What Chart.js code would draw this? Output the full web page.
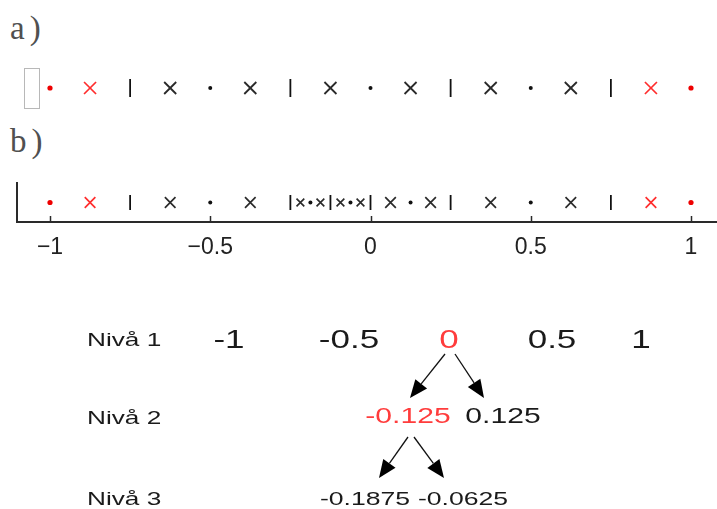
<!DOCTYPE html>
<html><head><meta charset="utf-8">
<script src="https://cdn.jsdelivr.net/npm/chart.js@4.4.1/dist/chart.umd.min.js"></script>
<style>
html,body{margin:0;padding:0;background:#fff;}
#wrap{position:relative;width:717px;height:509px;overflow:hidden;background:#fff;}
canvas{position:absolute;left:0;}
.lbl{position:absolute;font-family:"Liberation Serif","Times New Roman",serif;font-size:33px;color:#505050;line-height:1;letter-spacing:5px;}
.t{position:absolute;font-family:"Liberation Sans",Arial,sans-serif;line-height:1;white-space:nowrap;transform:translate(-50%,-50%) scaleX(1.4);color:#1a1a1a;}
#arrows{position:absolute;left:0;top:0;}
</style></head>
<body><div id="wrap">
<div class="lbl" style="left:10px;top:12px;">a)</div>
<div class="lbl" style="left:10px;top:125px;">b)</div>
<canvas id="rowA" width="717" height="56" style="top:60px;"></canvas>
<canvas id="rowB" width="717" height="95" style="top:175px;"></canvas>
<svg id="arrows" width="717" height="509"></svg>
<div id="tree"></div>
</div>
<script>
// ---- axis ticks ----
const tickValues = [-1, -0.5, 0, 0.5, 1];
const tickLabels = ["\u22121", "\u22120.5", "0", "0.5", "1"];

// ---- row a) points ----
const aRedDots    = [-1, 1];
const aRedCrosses = [-0.875, 0.875];
const aDots       = [-0.5, 0, 0.5];
const aCrosses    = [-0.625, -0.375, -0.125, 0.125, 0.375, 0.625];
const aBars       = [-0.75, -0.25, 0.25, 0.75];

// ---- row b) points ----
const bRedDots     = [-1, 1];
const bRedCrosses  = [-0.875, 0.875];
const bDots        = [-0.5, -0.1875, -0.0625, 0.125, 0.5];
const bCrosses     = [-0.625, -0.375, 0.0625, 0.1875, 0.375, 0.625];
const bFineCrosses = [-0.21875, -0.15625, -0.09375, -0.03125];
const bBars        = [-0.75, -0.25, -0.125, 0, 0.25, 0.75];

// ---- tree (levels) ----
const level1Values = [-1, -0.5, 0, 0.5, 1];
const level2Values = [-0.125, 0.125];
const level3Values = [-0.1875, -0.0625];
const levelNames = ["Niv\u00e5 1", "Niv\u00e5 2", "Niv\u00e5 3"];
const highlighted = [0, -0.125];

// ---- layout (not data) ----
const pxPerUnit = 320.5;
const xMin = -1 - 33 / pxPerUnit;
const xMax = 1 + 26 / pxPerUnit;
const RED = 'rgb(238,0,0)';
const RED_X = 'rgb(255,45,45)';
const DARK = '#2a2a2a';

function pts(arr){ return arr.map(v => ({x: v, y: 0})); }
function dotSet(arr, color, r){ return {data: pts(arr), pointStyle:'circle', pointRadius:r, pointBackgroundColor:color, pointBorderColor:color, pointBorderWidth:0, showLine:false, clip:false}; }
function crossSet(arr, color, r, w){ return {data: pts(arr), pointStyle:'crossRot', pointRadius:r, pointBorderColor:color, pointBorderWidth:w, showLine:false, clip:false}; }
function barSet(arr, color, r){ return {data: pts(arr), pointStyle:'line', pointRotation:90, pointRadius:r, pointBorderColor:color, pointBorderWidth:1.8, showLine:false, clip:false}; }

const boxPlugin = {
  id:'box',
  afterDraw(chart){
    const ctx = chart.ctx;
    ctx.save();
    ctx.strokeStyle = '#b8b8b8'; ctx.lineWidth = 1;
    ctx.strokeRect(24.5, 8.5, 15, 40);
    ctx.restore();
  }
};

const innerTicks = {
  id:'innerTicks',
  afterDraw(chart){
    const xs = chart.scales.x, ctx = chart.ctx, b = chart.chartArea.bottom;
    ctx.save();
    ctx.strokeStyle = DARK; ctx.lineWidth = 1.5;
    tickValues.forEach(v => {
      const px = Math.round(xs.getPixelForValue(v)) + 0.5;
      ctx.beginPath(); ctx.moveTo(px, b); ctx.lineTo(px, b - 6); ctx.stroke();
    });
    ctx.restore();
  }
};

const common = {
  responsive:false, animation:false, devicePixelRatio:1,
  plugins:{legend:{display:false}, tooltip:{enabled:false}},
  events:[]
};

new Chart(document.getElementById('rowA'), {
  type:'scatter',
  data:{datasets:[
    barSet(aBars, '#111', 9),
    crossSet(aCrosses, DARK, 8.5, 1.8),
    dotSet(aDots, '#111', 2),
    crossSet(aRedCrosses, RED_X, 8.5, 1.7),
    dotSet(aRedDots, RED, 2.6)
  ]},
  options:Object.assign({}, common, {
    layout:{autoPadding:false, padding:{left:17, right:0, top:0, bottom:0}},
    scales:{
      x:{type:'linear', min:xMin, max:xMax, display:false},
      y:{type:'linear', min:-1, max:1, display:false}
    }
  }),
  plugins:[boxPlugin]
});

new Chart(document.getElementById('rowB'), {
  type:'scatter',
  data:{datasets:[
    barSet(bBars, '#111', 7.5),
    crossSet(bCrosses, DARK, 7.5, 1.7),
    crossSet(bFineCrosses, DARK, 5.5, 1.6),
    dotSet(bDots, '#111', 2),
    crossSet(bRedCrosses, RED_X, 7.5, 1.7),
    dotSet(bRedDots, RED, 2.6)
  ]},
  options:Object.assign({}, common, {
    layout:{autoPadding:false, padding:{left:17, right:0, top:8, bottom:0}},
    scales:{
      x:{type:'linear', min:xMin, max:xMax, position:'bottom',
         afterBuildTicks: s => { s.ticks = tickValues.map(v => ({value:v})); },
         afterFit: s => { s.height = 48; s.paddingLeft = 0; s.paddingRight = 0; },
         grid:{display:false, drawTicks:false},
         border:{display:true, color:DARK, width:2},
         ticks:{padding:12, color:'#222', autoSkip:false, maxRotation:0,
                font:{family:'"Liberation Sans", Arial, sans-serif', size:23},
                callback: v => tickLabels[tickValues.indexOf(v)]}
      },
      y:{type:'linear', min:-1, max:1, position:'left',
         afterFit: s => { s.width = 0; },
         grid:{display:false, drawTicks:false},
         ticks:{display:false},
         border:{display:true, color:DARK, width:2}
      }
    }
  }),
  plugins:[innerTicks]
});

// ---- tree annotation ----
const levelY = [339, 417, 498];
const levelX = [
  [229, 349, 449, 552, 641],
  [408, 503],
  [365, 463]
];
const levelFont = [25, 21.5, 19];
const nameX = 87;
const tree = document.getElementById('tree');
function fmt(v){ return String(v); }
levelNames.forEach((n, i) => {
  const d = document.createElement('div');
  d.className = 't'; d.textContent = n;
  d.style.fontSize = '19px';
  d.style.top = levelY[i] + 'px';
  d.style.left = nameX + 'px';
  d.style.transformOrigin = '0 50%';
  d.style.transform = 'translate(0,-50%) scaleX(1.38)';
  tree.appendChild(d);
});
[level1Values, level2Values, level3Values].forEach((vals, li) => {
  vals.forEach((v, k) => {
    const d = document.createElement('div');
    d.className = 't'; d.textContent = fmt(v);
    d.style.fontSize = levelFont[li] + 'px';
    d.style.left = levelX[li][k] + 'px';
    d.style.top = levelY[li] + 'px';
    if (li < 2 && highlighted.includes(v)) d.style.color = 'rgb(255,60,60)';
    tree.appendChild(d);
  });
});
const arrows = [
  [445, 354, 410, 398],
  [455, 354, 484, 398],
  [408, 437, 379, 478],
  [414, 437, 444, 478]
];
const svg = document.getElementById('arrows');
const NS = 'http://www.w3.org/2000/svg';
arrows.forEach(([x1, y1, x2, y2]) => {
  const dx = x2 - x1, dy = y2 - y1, L = Math.hypot(dx, dy);
  const ux = dx / L, uy = dy / L, hl = 18, hw = 7.5;
  const bx = x2 - ux * hl, by = y2 - uy * hl;
  const line = document.createElementNS(NS, 'line');
  line.setAttribute('x1', x1); line.setAttribute('y1', y1);
  line.setAttribute('x2', bx); line.setAttribute('y2', by);
  line.setAttribute('stroke', '#111'); line.setAttribute('stroke-width', '1.3');
  svg.appendChild(line);
  const poly = document.createElementNS(NS, 'polygon');
  poly.setAttribute('points', `${x2},${y2} ${bx - uy * hw},${by + ux * hw} ${bx + uy * hw},${by - ux * hw}`);
  poly.setAttribute('fill', '#000');
  svg.appendChild(poly);
});
</script>
</body></html>
